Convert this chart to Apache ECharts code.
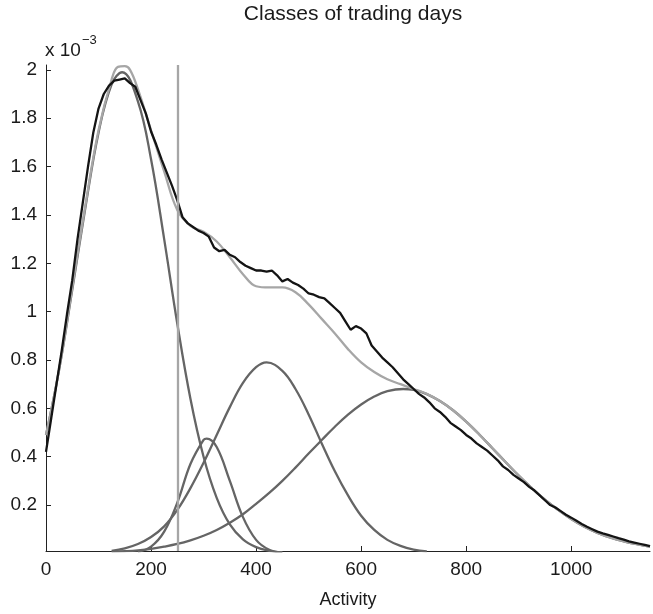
<!DOCTYPE html>
<html>
<head>
<meta charset="utf-8">
<script src="https://cdn.jsdelivr.net/npm/echarts@6/dist/echarts.min.js"></script>
<style>
html,body{margin:0;padding:0;background:#fff;}
#chart{width:653px;height:614px;}
</style>
</head>
<body>
<div id="chart"></div>
<script>
// ---- data (values in units of 10^-3) ----
const TITLE = 'Classes of trading days';
const X_NAME = 'Activity';
const X_TICKS = [0, 200, 400, 600, 800, 1000];
const Y_TICKS = [0.2, 0.4, 0.6, 0.8, 1.0, 1.2, 1.4, 1.6, 1.8, 2.0];
const X_MIN = 0, X_MAX = 1150;
const Y_MIN = 0.01, Y_MAX = 2.02;
const VLINE_X = 250;

const empirical = [
[0,0.42],[10,0.56],[20,0.70],[30,0.84],[40,0.99],[50,1.13],[60,1.30],[70,1.45],[80,1.60],[90,1.74],
[100,1.84],[110,1.90],[120,1.935],[130,1.955],[140,1.96],[150,1.965],[160,1.945],[170,1.93],[180,1.875],[190,1.82],
[200,1.745],[210,1.69],[220,1.63],[230,1.575],[240,1.52],[250,1.46],[260,1.39],[270,1.365],[280,1.35],[290,1.335],
[300,1.325],[310,1.31],[320,1.265],[330,1.25],[340,1.255],[350,1.235],[360,1.225],[370,1.205],[380,1.19],[390,1.18],
[400,1.17],[410,1.17],[420,1.165],[430,1.17],[440,1.15],[450,1.125],[460,1.135],[470,1.12],[480,1.11],[490,1.095],
[500,1.075],[510,1.07],[520,1.06],[530,1.055],[540,1.035],[550,1.015],[560,0.995],[570,0.96],[580,0.925],[590,0.94],
[600,0.93],[610,0.91],[620,0.86],[630,0.835],[640,0.81],[650,0.79],[660,0.77],[670,0.745],[680,0.72],[690,0.70],
[700,0.68],[710,0.66],[720,0.645],[730,0.625],[740,0.60],[750,0.585],[760,0.565],[770,0.54],[780,0.525],[790,0.51],
[800,0.49],[810,0.475],[820,0.455],[830,0.44],[840,0.425],[850,0.405],[860,0.385],[870,0.36],[880,0.345],[890,0.325],
[900,0.31],[910,0.295],[920,0.275],[930,0.26],[940,0.24],[950,0.22],[960,0.20],[970,0.19],[980,0.175],[990,0.16],
[1000,0.148],[1010,0.135],[1020,0.122],[1030,0.11],[1040,0.10],[1050,0.09],[1060,0.083],[1070,0.077],[1080,0.07],[1090,0.063],
[1100,0.057],[1110,0.05],[1120,0.045],[1130,0.04],[1140,0.035],[1150,0.03]
];

const mixture = [
[0,0.49],[25,0.76],[50,1.10],[75,1.44],[100,1.75],[125,1.96],[137,2.012],[150,2.015],[160,2.0],[175,1.92],
[200,1.75],[225,1.58],[250,1.42],[275,1.355],[300,1.33],[325,1.29],[350,1.225],[375,1.155],[400,1.105],[425,1.10],
[450,1.10],[475,1.08],[500,1.03],[525,0.97],[550,0.91],[575,0.845],[600,0.79],[625,0.75],[650,0.72],[675,0.70],
[700,0.68],[725,0.66],[750,0.63],[775,0.592],[800,0.545],[825,0.492],[850,0.435],[875,0.378],[900,0.322],[925,0.27],
[950,0.222],[975,0.18],[1000,0.142],[1025,0.11],[1050,0.085],[1075,0.065],[1100,0.05],[1125,0.038],[1150,0.028]
];

const comp1 = [
[0,0.49],[25,0.76],[50,1.09],[75,1.43],[100,1.74],[125,1.94],[145,1.99],[175,1.87],[200,1.63],[225,1.30],
[250,0.95],[275,0.64],[300,0.40],[325,0.23],[350,0.12],[375,0.058],[400,0.026],[425,0.011],[450,0.004]
];

const comp2 = [
[175,0.006],[200,0.028],[225,0.09],[250,0.21],[275,0.37],[300,0.47],[306,0.475],[325,0.44],[350,0.30],[375,0.15],
[400,0.056],[425,0.015],[450,0.003]
];

const comp3 = [
[125,0.010],[150,0.021],[175,0.039],[200,0.068],[225,0.112],[250,0.18],[275,0.27],[300,0.375],[325,0.49],[350,0.605],
[375,0.705],[400,0.77],[420,0.79],[450,0.755],[475,0.68],[500,0.575],[525,0.455],[550,0.34],[575,0.24],[600,0.156],
[625,0.097],[650,0.056],[675,0.031],[700,0.016],[725,0.008]
];

const comp4 = [
[125,0.006],[150,0.009],[175,0.013],[200,0.019],[225,0.028],[250,0.039],[275,0.054],[300,0.073],[325,0.097],[350,0.127],
[375,0.162],[400,0.205],[425,0.25],[450,0.30],[475,0.355],[500,0.413],[525,0.469],[550,0.524],[575,0.574],[600,0.616],
[625,0.649],[650,0.671],[680,0.68],[700,0.676],[725,0.659],[750,0.63],[775,0.592],[800,0.545],[825,0.492],[850,0.435],
[875,0.378],[900,0.322],[925,0.27],[950,0.222],[975,0.18],[1000,0.142],[1025,0.11],[1050,0.085],[1075,0.065],[1100,0.05],
[1125,0.038],[1150,0.028]
];

// ---- chart ----
const FONT = '"Liberation Sans", Arial, Helvetica, sans-serif';
const TEXT = '#1a1a1a';
const DARK = '#656565', LIGHT = '#a6a6a6', BLACK = '#141414';
const LW = 2.3;

function compSeries(data) {
  return {
    type: 'line', data: data, showSymbol: false, smooth: 0.4, z: 2,
    lineStyle: { color: DARK, width: LW }, silent: true, animation: false
  };
}

const chart = echarts.init(document.getElementById('chart'), null, { renderer: 'canvas' });
chart.setOption({
  animation: false,
  backgroundColor: '#fff',
  grid: { left: 46, right: 3, top: 65, bottom: 62 },
  graphic: [
    { type: 'text', x: 353, y: 4, style: { text: TITLE, font: '21px ' + FONT, fill: TEXT, textAlign: 'center' } },
    { type: 'text', x: 45, y: 41, style: { text: 'x 10', font: '19px ' + FONT, fill: TEXT } },
    { type: 'text', x: 82, y: 34, style: { text: '\u22123', font: '13px ' + FONT, fill: TEXT } }
  ],
  xAxis: {
    type: 'value', min: X_MIN, max: X_MAX,
    name: X_NAME, nameLocation: 'middle', nameGap: 40,
    nameTextStyle: { fontFamily: FONT, fontSize: 18, color: TEXT },
    axisLine: { show: true, onZero: false, lineStyle: { color: '#222', width: 1 } },
    axisTick: { show: true, inside: true, length: 5, customValues: X_TICKS, lineStyle: { color: '#222' } },
    axisLabel: { customValues: X_TICKS, fontFamily: FONT, fontSize: 19, color: TEXT, margin: 9,
      formatter: v => String(v) },
    splitLine: { show: false }
  },
  yAxis: {
    type: 'value', min: Y_MIN, max: Y_MAX,
    axisLine: { show: true, onZero: false, lineStyle: { color: '#222', width: 1 } },
    axisTick: { show: true, inside: true, length: 5, customValues: Y_TICKS, lineStyle: { color: '#222' } },
    axisLabel: {
      customValues: Y_TICKS, fontFamily: FONT, fontSize: 19, color: TEXT, margin: 9,
      formatter: v => String(+(+v).toFixed(1))
    },
    splitLine: { show: false }
  },
  series: [
    {
      type: 'line', data: [], silent: true, z: 1,
      markLine: {
        silent: true, symbol: 'none', animation: false,
        label: { show: false },
        lineStyle: { color: LIGHT, width: LW, type: 'solid' },
        data: [{ xAxis: VLINE_X }]
      }
    },
    compSeries(comp1), compSeries(comp2), compSeries(comp3), compSeries(comp4),
    {
      type: 'line', data: mixture, showSymbol: false, smooth: 0.4, z: 3,
      lineStyle: { color: LIGHT, width: LW }
    },
    {
      type: 'line', data: empirical, showSymbol: false, smooth: false, z: 4,
      lineStyle: { color: BLACK, width: LW }
    }
  ]
});
</script>
</body>
</html>
